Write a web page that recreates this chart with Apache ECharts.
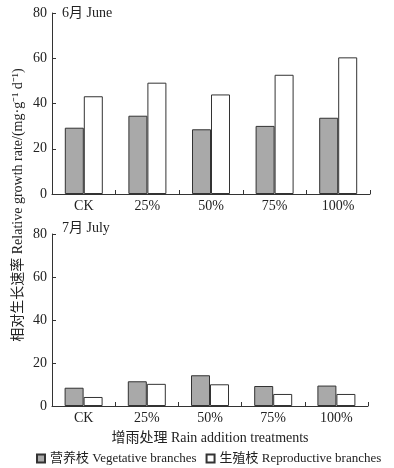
<!DOCTYPE html>
<html>
<head>
<meta charset="utf-8">
<script src="https://cdn.jsdelivr.net/npm/echarts@6/dist/echarts.min.js"></script>
<style>
  html, body { margin: 0; padding: 0; background: #fff; }
  #chart { width: 394px; height: 468px; }
</style>
</head>
<body>
<div id="chart"></div>
<script>
    // 处理类别
    var categories = ['CK', '25%', '50%', '75%', '100%'];
    // 6月
    var juneVeg = [29.3, 34.6, 28.6, 30.1, 33.7];
    var juneRep = [43.2, 49.2, 44.0, 52.7, 60.4];
    // 7月
    var julyVeg = [8.5, 11.5, 14.3, 9.3, 9.5];
    var julyRep = [4.2, 10.3, 10.1, 5.6, 5.6];
    var yTicks = [0, 20, 40, 60, 80];

    var FONT = '"Liberation Serif", "Noto Sans CJK SC", serif';
    var INK = '#333';

    var myChart = echarts.init(document.getElementById('chart'));

    function yAxisOf(idx) {
        return {
            gridIndex: idx,
            type: 'value',
            min: yTicks[0],
            max: yTicks[yTicks.length - 1],
            interval: yTicks[1] - yTicks[0],
            axisLine: { show: true, lineStyle: { color: INK, width: 1 } },
            axisTick: { show: true, inside: true, length: 4, lineStyle: { color: INK } },
            axisLabel: { color: '#222', fontFamily: FONT, fontSize: 14, margin: 5 },
            splitLine: { show: false }
        };
    }

    function xAxisOf(idx) {
        return {
            gridIndex: idx,
            type: 'category',
            data: categories,
            axisLine: { show: true, lineStyle: { color: INK, width: 1 } },
            axisTick: { show: true, inside: true, length: 4, lineStyle: { color: INK } },
            axisLabel: { color: '#222', fontFamily: FONT, fontSize: 14, margin: 5 }
        };
    }

    function barOf(name, data, idx, fill) {
        return {
            name: name,
            type: 'bar',
            xAxisIndex: idx,
            yAxisIndex: idx,
            data: data,
            barWidth: 19,
            barGap: '0%',
            itemStyle: { color: fill, borderColor: INK, borderWidth: 1 }
        };
    }

    var xJuly = xAxisOf(1);
    xJuly.name = '增雨处理 Rain addition treatments';
    xJuly.nameLocation = 'middle';
    xJuly.nameGap = 25;
    xJuly.nameTextStyle = { color: '#222', fontFamily: FONT, fontSize: 14 };

    myChart.setOption({
        animation: false,
        textStyle: { fontFamily: FONT },
        grid: [
            { left: 52, width: 318, top: 13, height: 181 },
            { left: 52, width: 316, top: 234, height: 172 }
        ],
        xAxis: [xAxisOf(0), xJuly],
        yAxis: [yAxisOf(0), yAxisOf(1)],
        legend: {
            orient: 'horizontal',
            bottom: 3,
            left: 36,
            width: 358,
            padding: 0,
            itemWidth: 8,
            itemHeight: 8,
            itemGap: 9,
            icon: 'rect',
            textStyle: { color: '#222', fontFamily: FONT, fontSize: 13 },
            data: ['营养枝 Vegetative branches', '生殖枝 Reproductive branches']
        },
        graphic: [
            {
                type: 'text', left: 62, top: 6,
                style: { text: '6月 June', fontFamily: FONT, fontSize: 14, fill: '#222' }
            },
            {
                type: 'text', left: 62, top: 221,
                style: { text: '7月 July', fontFamily: FONT, fontSize: 14, fill: '#222' }
            },
            {
                type: 'text', x: 18, y: 205, rotation: Math.PI / 2,
                style: {
                    text: '相对生长速率 Relative growth rate/(mg·g⁻¹ d⁻¹)',
                    fontFamily: FONT, fontSize: 14, fill: '#222',
                    align: 'center', verticalAlign: 'middle'
                }
            }
        ],
        series: [
            barOf('营养枝 Vegetative branches', juneVeg, 0, '#a9a9a9'),
            barOf('生殖枝 Reproductive branches', juneRep, 0, '#ffffff'),
            barOf('营养枝 Vegetative branches', julyVeg, 1, '#a9a9a9'),
            barOf('生殖枝 Reproductive branches', julyRep, 1, '#ffffff')
        ]
    });
</script>
</body>
</html>
